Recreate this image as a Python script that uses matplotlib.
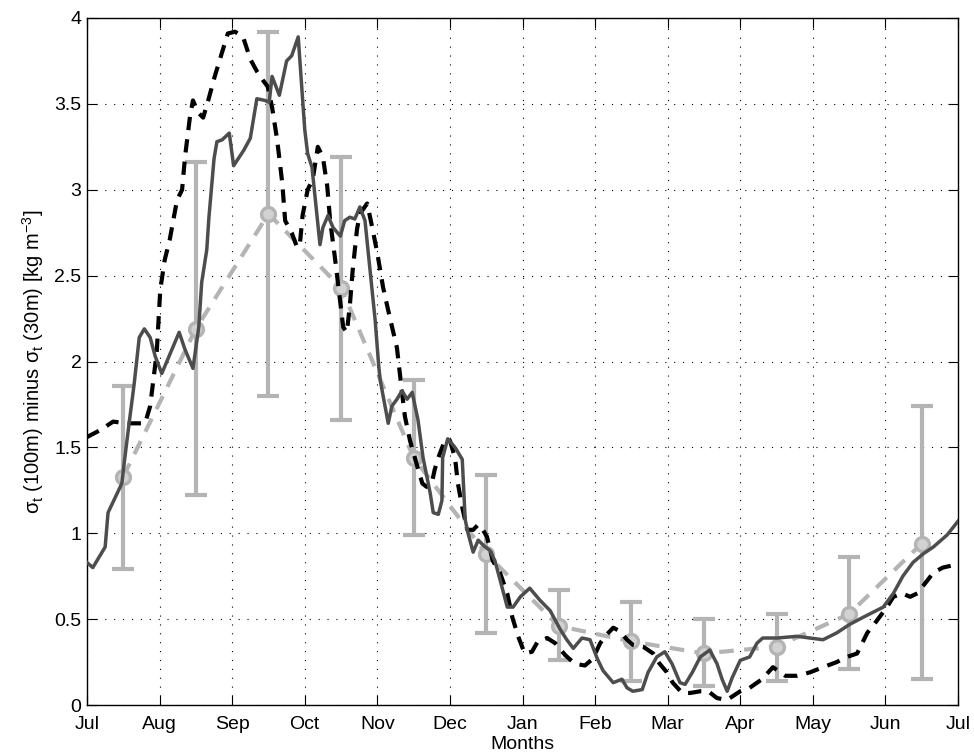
import numpy as np
import matplotlib
matplotlib.use('Agg')
import matplotlib.pyplot as plt

plt.rcParams['font.family'] = ['Liberation Sans', 'DejaVu Sans']
plt.rcParams['mathtext.fontset'] = 'custom'
plt.rcParams['mathtext.rm'] = 'Liberation Sans'
plt.rcParams['mathtext.it'] = 'Liberation Sans'
plt.rcParams['mathtext.default'] = 'regular'

month_labels = ['Jul', 'Aug', 'Sep', 'Oct', 'Nov', 'Dec', 'Jan', 'Feb',
                'Mar', 'Apr', 'May', 'Jun', 'Jul']

# monthly climatology (mid-month), mean and error bar ends
clim_x = [0.5, 1.5, 2.5, 3.5, 4.5, 5.5, 6.5, 7.5, 8.5, 9.5, 10.5, 11.5]
clim_mean = [1.33, 2.19, 2.86, 2.43, 1.44, 0.88, 0.46, 0.37, 0.30, 0.34, 0.53, 0.94]
clim_lo = [0.79, 1.22, 1.80, 1.66, 0.99, 0.42, 0.26, 0.14, 0.11, 0.14, 0.21, 0.15]
clim_hi = [1.86, 3.16, 3.92, 3.19, 1.89, 1.34, 0.67, 0.60, 0.50, 0.53, 0.86, 1.74]

# solid series (months since Jul 1)
solid_x = [0.00, 0.08, 0.18, 0.25, 0.29, 0.39, 0.48, 0.51, 0.58, 0.65, 0.72, 0.79,
           0.87, 0.94, 1.03, 1.13, 1.27, 1.35, 1.46, 1.54, 1.58, 1.65, 1.68, 1.75,
           1.79, 1.86, 1.96, 2.02, 2.16, 2.25, 2.34, 2.45, 2.51, 2.55, 2.65, 2.75,
           2.82, 2.91, 2.93, 3.00, 3.04, 3.10, 3.21, 3.25, 3.32, 3.39, 3.49, 3.55,
           3.62, 3.69, 3.76, 3.83, 3.90, 3.97, 4.02, 4.04, 4.15, 4.20, 4.27, 4.34,
           4.41, 4.48, 4.56, 4.63, 4.73, 4.77, 4.84, 4.89, 4.90, 4.97, 5.07, 5.17,
           5.21, 5.25, 5.32, 5.39, 5.46, 5.55, 5.62, 5.69, 5.79, 5.87, 5.97, 6.10,
           6.24, 6.38, 6.52, 6.61, 6.70, 6.82, 6.93, 7.03, 7.11, 7.25, 7.37, 7.44,
           7.52, 7.65, 7.73, 7.85, 7.96, 8.06, 8.17, 8.24, 8.34, 8.45, 8.58, 8.68,
           8.75, 8.82, 8.89, 9.00, 9.13, 9.23, 9.31, 9.51, 9.78, 9.96, 10.14, 10.33,
           10.51, 10.69, 10.97, 11.11, 11.24, 11.38, 11.52, 11.66, 11.85, 12.00]
solid_y = [0.83, 0.80, 0.87, 0.92, 1.12, 1.21, 1.29, 1.40, 1.64, 1.87, 2.14, 2.19,
           2.14, 2.03, 1.93, 2.03, 2.17, 2.07, 1.96, 2.20, 2.46, 2.65, 2.84, 3.18,
           3.28, 3.29, 3.33, 3.14, 3.23, 3.30, 3.53, 3.52, 3.51, 3.66, 3.55, 3.75,
           3.78, 3.89, 3.77, 3.35, 3.21, 3.13, 2.68, 2.78, 2.85, 2.78, 2.73, 2.82,
           2.84, 2.83, 2.90, 2.82, 2.53, 2.24, 1.97, 1.89, 1.64, 1.74, 1.78, 1.83,
           1.78, 1.82, 1.66, 1.44, 1.23, 1.12, 1.11, 1.19, 1.44, 1.55, 1.50, 1.43,
           1.08, 1.00, 0.89, 0.96, 0.93, 0.90, 0.84, 0.73, 0.57, 0.57, 0.63, 0.68,
           0.61, 0.55, 0.44, 0.38, 0.33, 0.39, 0.38, 0.27, 0.20, 0.13, 0.15, 0.10,
           0.08, 0.09, 0.19, 0.28, 0.31, 0.24, 0.13, 0.12, 0.19, 0.28, 0.32, 0.24,
           0.15, 0.08, 0.16, 0.26, 0.28, 0.36, 0.39, 0.39, 0.40, 0.39, 0.38, 0.42,
           0.47, 0.51, 0.57, 0.65, 0.75, 0.83, 0.88, 0.92, 0.99, 1.07]

# black dashed series
dash_x = [0.00, 0.18, 0.36, 0.55, 0.73, 0.80, 0.87, 0.92, 0.96, 1.01, 1.07, 1.14,
          1.24, 1.31, 1.35, 1.42, 1.46, 1.53, 1.60, 1.67, 1.76, 1.86, 1.94, 2.04,
          2.15, 2.25, 2.34, 2.42, 2.49, 2.55, 2.62, 2.69, 2.73, 2.82, 2.89, 2.93,
          2.97, 3.04, 3.11, 3.18, 3.25, 3.31, 3.35, 3.42, 3.49, 3.53, 3.58, 3.62,
          3.66, 3.72, 3.76, 3.86, 3.93, 4.00, 4.08, 4.17, 4.27, 4.34, 4.38, 4.45,
          4.55, 4.62, 4.68, 4.75, 4.79, 4.84, 4.93, 5.00, 5.07, 5.11, 5.17, 5.24,
          5.32, 5.39, 5.44, 5.51, 5.59, 5.69, 5.79, 5.86, 5.94, 6.03, 6.13, 6.21,
          6.34, 6.45, 6.59, 6.72, 6.86, 6.97, 7.07, 7.16, 7.25, 7.34, 7.44, 7.52,
          7.66, 7.80, 7.89, 7.99, 8.07, 8.20, 8.31, 8.45, 8.56, 8.68, 8.82, 9.00,
          9.13, 9.30, 9.45, 9.62, 9.78, 9.96, 10.14, 10.33, 10.47, 10.61, 10.75,
          10.88, 11.02, 11.11, 11.23, 11.34, 11.44, 11.55, 11.66, 11.79, 12.00]
dash_y = [1.56, 1.60, 1.65, 1.64, 1.64, 1.64, 1.74, 1.91, 2.05, 2.42, 2.59, 2.71,
          2.94, 3.00, 3.19, 3.43, 3.52, 3.45, 3.42, 3.52, 3.66, 3.80, 3.91, 3.92,
          3.89, 3.76, 3.69, 3.64, 3.60, 3.48, 3.29, 3.04, 2.82, 2.75, 2.67, 2.67,
          2.85, 3.00, 3.06, 3.25, 3.19, 3.02, 2.82, 2.59, 2.34, 2.20, 2.17, 2.32,
          2.53, 2.77, 2.86, 2.92, 2.78, 2.63, 2.43, 2.26, 2.08, 1.82, 1.68, 1.54,
          1.39, 1.29, 1.27, 1.29, 1.37, 1.44, 1.54, 1.54, 1.44, 1.29, 1.15, 1.02,
          1.02, 1.05, 1.03, 0.98, 0.84, 0.77, 0.65, 0.51, 0.40, 0.30, 0.31, 0.37,
          0.39, 0.36, 0.29, 0.24, 0.23, 0.27, 0.36, 0.41, 0.45, 0.43, 0.38, 0.35,
          0.34, 0.30, 0.24, 0.19, 0.13, 0.07, 0.07, 0.08, 0.08, 0.04, 0.03, 0.08,
          0.10, 0.15, 0.22, 0.17, 0.17, 0.19, 0.22, 0.25, 0.28, 0.30, 0.42,
          0.49, 0.57, 0.63, 0.65, 0.63, 0.65, 0.71, 0.77, 0.80, 0.82]

fig = plt.figure(figsize=(9.74, 7.55), dpi=100)
ax = fig.add_axes([87/974, 50/755, 871/974, 687/755])

grey = '#b4b4b4'
ax.errorbar(clim_x, clim_mean,
            yerr=[np.subtract(clim_mean, clim_lo), np.subtract(clim_hi, clim_mean)],
            fmt='none', ecolor=grey, elinewidth=3, capsize=8, capthick=3, zorder=2)
ax.plot(clim_x, clim_mean, color=grey, lw=3, dashes=(3.5, 2.5), zorder=3)
ax.plot(clim_x, clim_mean, 'o', ms=10, mfc='#d2d2d2', mec=grey, mew=2.4,
        ls='none', zorder=3)
ax.plot(dash_x, dash_y, color='black', lw=3, dashes=(3.2, 2.2), zorder=4)
ax.plot(solid_x, solid_y, color='#4d4d4d', lw=2.5, zorder=5)

ax.set_xlim(0, 12)
ax.set_ylim(0, 4)
ax.set_xticks(range(13))
ax.set_xticklabels(month_labels)
ax.set_yticks(np.arange(0, 4.01, 0.5))
ax.set_yticklabels(['0', '0.5', '1', '1.5', '2', '2.5', '3', '3.5', '4'])
ax.tick_params(direction='in', length=7, width=0.8, top=True, right=True,
               labelsize=14, pad=4)
ax.tick_params(axis='x', pad=8)
ax.grid(True, color='black', linestyle=(0, (1, 7)), linewidth=0.8)
for s in ax.spines.values():
    s.set_linewidth(1.0)

ax.set_xlabel('Months', fontsize=14, labelpad=2)
ax.set_ylabel(r'$\sigma_t$ (100m) minus $\sigma_t$ (30m) [kg m$^{-3}$]',
              fontsize=14.5, labelpad=6)

fig.savefig('out.png', dpi=100)
